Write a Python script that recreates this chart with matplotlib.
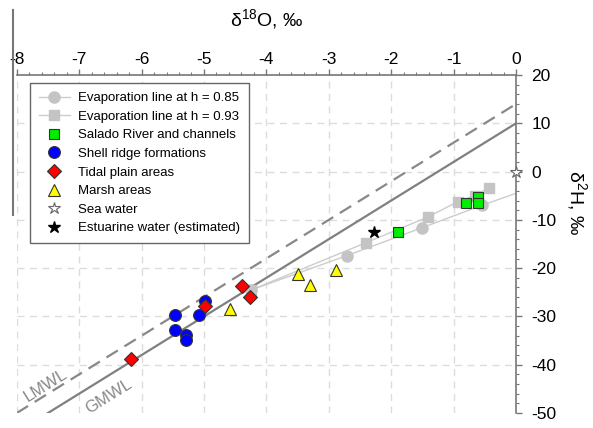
import matplotlib
matplotlib.use("Agg")
import matplotlib.pyplot as plt
from matplotlib.lines import Line2D
import numpy as np

plt.rcParams['font.family'] = ['Liberation Sans', 'DejaVu Sans']
plt.rcParams['axes.unicode_minus'] = False

# ---- data ----
evap085_x = [-4.24, -2.71, -1.50, -0.55, 0.0]
evap085_y = [-24.5, -17.4, -11.6, -7.0, -4.5]
evap093_x = [-4.24, -2.40, -1.41, -0.93, -0.66, -0.43]
evap093_y = [-24.5, -14.7, -9.4, -6.2, -5.0, -3.3]

salado_x = [-1.89, -0.80, -0.61, -0.61]
salado_y = [-12.5, -6.5, -5.2, -6.6]

shell_x = [-4.98, -5.47, -5.08, -5.47, -5.28, -5.28]
shell_y = [-26.7, -29.8, -29.8, -32.8, -33.8, -34.8]

tidal_x = [-6.17, -4.39, -4.27, -4.98]
tidal_y = [-38.9, -23.7, -25.9, -27.8]

marsh_x = [-3.49, -3.30, -2.89, -4.58]
marsh_y = [-21.2, -23.4, -20.4, -28.5]

sea_x, sea_y = [0.0], [0.0]
estuarine_x, estuarine_y = [-2.28], [-12.5]

gmwl_x = [-7.5, 0.0]
gmwl_y = [-50.0, 10.0]
lmwl_x = [-8.0, 0.0]
lmwl_y = [-50.0, 14.0]

xticks = [-8, -7, -6, -5, -4, -3, -2, -1, 0]
yticks = [20, 10, 0, -10, -20, -30, -40, -50]

# ---- figure ----
fig = plt.figure(figsize=(5.93, 4.28), dpi=100)
ax = fig.add_axes([0.0282, 0.035, 0.842, 0.7897])
ax.set_xlim(-8, 0)
ax.set_ylim(-50, 20)

for s in ['left', 'bottom']:
    ax.spines[s].set_visible(False)
for s in ['top', 'right']:
    ax.spines[s].set_color('#777777')
    ax.spines[s].set_linewidth(1.2)

ax.xaxis.tick_top()
ax.yaxis.tick_right()
ax.set_xticks(xticks)
ax.set_yticks(yticks)
ax.set_xticks(np.arange(-8, 0.01, 0.2), minor=True)
ax.set_yticks(np.arange(-50, 20.01, 2), minor=True)
ax.tick_params(which='major', length=4, width=1, color='#777777', labelsize=12.5)
ax.tick_params(which='minor', length=2.5, width=0.8, color='#777777')
ax.tick_params(axis='x', which='major', pad=1.5)
ax.tick_params(axis='y', which='major', pad=7)

# grid
gkw = dict(color='#dcdcdc', lw=1.0, ls=(0, (5, 4)), zorder=0)
for xv in xticks[:-1]:
    ax.axvline(xv, **gkw)
for yv in yticks[1:-1]:
    ax.axhline(yv, **gkw)

# meteoric water lines
ax.plot(lmwl_x, lmwl_y, color='#888888', lw=1.6, ls=(0, (6, 3.5)), zorder=1)
ax.plot(gmwl_x, gmwl_y, color='#808080', lw=1.6, zorder=1)
ax.text(-7.53, -44.3, 'LMWL', rotation=32, color='#888888', fontsize=12,
        ha='center', va='center')
ax.text(-6.52, -46.6, 'GMWL', rotation=32, color='#888888', fontsize=12,
        ha='center', va='center')

# evaporation lines
ax.plot(evap085_x, evap085_y, color='#cccccc', lw=1, marker='o', ms=8,
        mfc='#c4c4c4', mec='#c4c4c4', markevery=[0, 1, 2, 3], zorder=2,
        label='Evaporation line at h = 0.85')
ax.plot(evap093_x, evap093_y, color='#cccccc', lw=1, marker='s', ms=7,
        mfc='#c4c4c4', mec='#c4c4c4', zorder=2,
        label='Evaporation line at h = 0.93')

mk = dict(ls='none', mec='#333333', mew=0.8, zorder=4)
ax.plot(salado_x, salado_y, marker='s', ms=7, mfc='#00ee00',
        label='Salado River and channels', **mk)
ax.plot(shell_x, shell_y, marker='o', ms=8.5, mfc='#0000ff',
        label='Shell ridge formations', **mk)
ax.plot(tidal_x, tidal_y, marker='D', ms=7, mfc='#ff0000',
        label='Tidal plain areas', **mk)
ax.plot(marsh_x, marsh_y, marker='^', ms=8.5, mfc='#ffff00',
        label='Marsh areas', **mk)
ax.plot(sea_x, sea_y, ls='none', marker='*', ms=9, mfc='white', mec='#666666',
        mew=0.8, zorder=5, clip_on=False, label='Sea water')
ax.plot(estuarine_x, estuarine_y, ls='none', marker='*', ms=9, mfc='black',
        mec='black', zorder=5, label='Estuarine water (estimated)')

leg = ax.legend(loc='upper left', bbox_to_anchor=(0.0266, 0.977),
                borderaxespad=0, fontsize=9.5, frameon=True, fancybox=False,
                edgecolor='#666666', framealpha=1, labelspacing=0.48,
                handlelength=2.3, handletextpad=0.6, borderpad=0.7)
leg.get_frame().set_linewidth(1.0)

ax.set_xlabel(r'$\mathregular{\delta^{18}O}$, ‰', fontsize=14)
ax.xaxis.set_label_position('top')
ax.xaxis.set_label_coords(0.5, 1.165)
ax.xaxis.label.set_va('center')
ax.set_ylabel(r'$\mathregular{\delta^{2}H}$, ‰', fontsize=14, rotation=270)
ax.yaxis.set_label_position('right')
ax.yaxis.set_label_coords(1.122, 0.624)
ax.yaxis.label.set_va('center')

# stray frame line at left
fig.add_artist(Line2D([13 / 593, 13 / 593], [1 - 10 / 428, 1 - 215 / 428],
                      color='#777777', lw=1.5))

fig.savefig('out.png', dpi=100)
